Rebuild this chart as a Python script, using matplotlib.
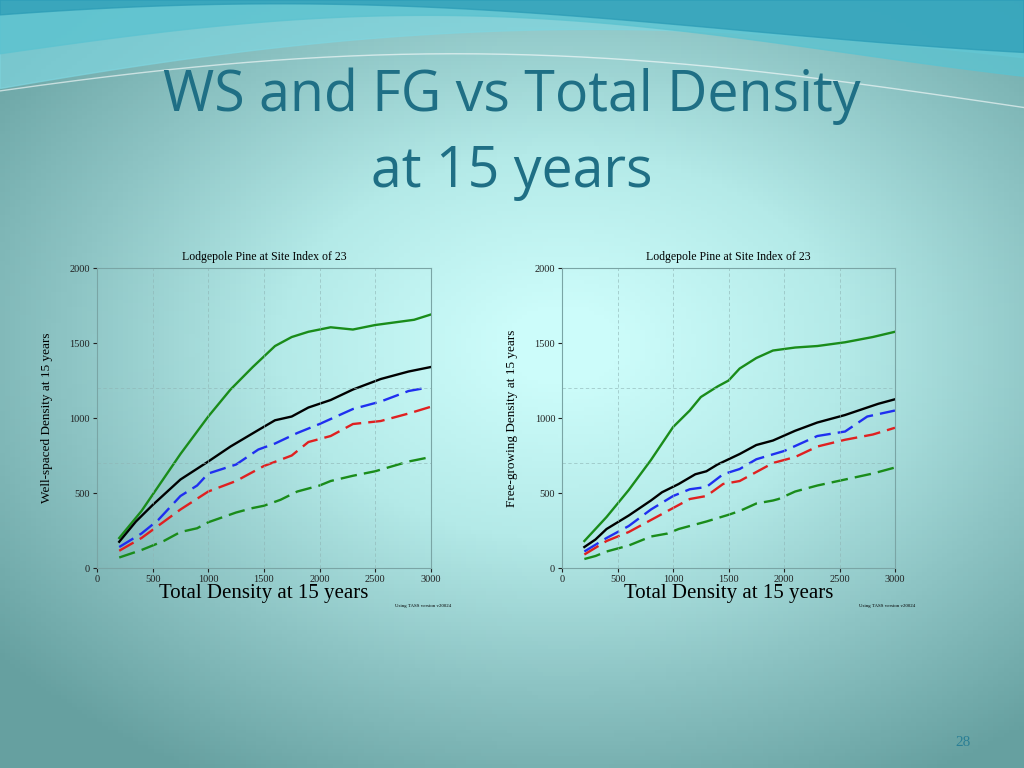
import matplotlib.pyplot as plt
import numpy as np
from matplotlib.colors import LinearSegmentedColormap

# left panel: well-spaced density
ws_green_x = [200, 400, 750, 1000, 1200, 1400, 1600, 1750, 1900, 2100, 2300, 2500, 2700, 2850, 3000]
ws_green_y = [200, 380, 760, 1010, 1190, 1340, 1480, 1540, 1575, 1605, 1590, 1620, 1640, 1655, 1690]
ws_black_x = [200, 350, 500, 750, 1000, 1200, 1450, 1600, 1750, 1900, 2100, 2300, 2550, 2800, 3000]
ws_black_y = [175, 310, 420, 590, 710, 810, 920, 985, 1010, 1070, 1120, 1190, 1260, 1310, 1340]
ws_blue_x = [200, 400, 550, 750, 900, 1000, 1250, 1450, 1600, 1800, 2000, 2300, 2550, 2800, 2950]
ws_blue_y = [140, 230, 320, 480, 550, 630, 690, 790, 830, 900, 960, 1060, 1110, 1180, 1200]
ws_red_x = [200, 400, 750, 1000, 1250, 1500, 1750, 1900, 2100, 2300, 2550, 2800, 3000]
ws_red_y = [115, 200, 390, 510, 580, 680, 750, 840, 880, 960, 980, 1030, 1075]
ws_gdash_x = [200, 400, 600, 750, 900, 1000, 1250, 1400, 1500, 1650, 1800, 2000, 2100, 2300, 2500, 2800, 3000]
ws_gdash_y = [70, 120, 180, 240, 265, 305, 370, 400, 415, 455, 510, 550, 580, 615, 645, 710, 740]

# right panel: free-growing density
fg_green_x = [200, 400, 600, 800, 1000, 1150, 1250, 1400, 1500, 1600, 1750, 1900, 2100, 2300, 2550, 2800, 3000]
fg_green_y = [180, 340, 520, 720, 940, 1050, 1140, 1210, 1250, 1330, 1400, 1450, 1470, 1480, 1505, 1540, 1575]
fg_black_x = [200, 300, 400, 600, 800, 900, 1050, 1200, 1300, 1400, 1600, 1750, 1900, 2100, 2300, 2550, 2850, 3000]
fg_black_y = [140, 190, 260, 350, 450, 505, 560, 625, 645, 690, 760, 820, 850, 915, 970, 1020, 1095, 1125]
fg_blue_x = [200, 400, 600, 800, 1000, 1150, 1300, 1450, 1600, 1750, 2000, 2300, 2550, 2750, 3000]
fg_blue_y = [110, 200, 280, 390, 480, 525, 540, 625, 660, 725, 780, 880, 910, 1010, 1050]
fg_red_x = [200, 400, 600, 800, 1000, 1150, 1300, 1450, 1600, 1750, 1900, 2100, 2300, 2550, 2800, 3000]
fg_red_y = [90, 180, 240, 320, 400, 460, 480, 560, 580, 640, 700, 740, 810, 855, 890, 935]
fg_gdash_x = [200, 300, 400, 600, 800, 950, 1050, 1300, 1500, 1600, 1750, 1900, 1950, 2100, 2300, 2550, 2800, 3000]
fg_gdash_y = [60, 80, 110, 150, 210, 230, 260, 310, 355, 380, 430, 450, 460, 510, 550, 590, 630, 670]

x_ticks = [0, 500, 1000, 1500, 2000, 2500, 3000]
y_ticks = [0, 500, 1000, 1500, 2000]

fig = plt.figure(figsize=(10.24, 7.68), dpi=100)

# background gradient
bg = fig.add_axes([0, 0, 1, 1])
bg.set_axis_off()
yy, xx = np.mgrid[0:1:200j, 0:1:200j]
dist = np.sqrt(((xx - 0.55) / 1.1) ** 2 + ((yy - 0.55) / 1.0) ** 2)
cmap = LinearSegmentedColormap.from_list("bg", ["#ccfcfa", "#b4eae8", "#8cc3c3", "#66a0a0"])
bg.imshow(dist, cmap=cmap, extent=[0, 1, 0, 1], aspect="auto", origin="lower", vmin=0.05, vmax=0.65)
t = np.linspace(0, 1, 200)
bg.fill_between(t, 1.0, 0.86 + 0.08 * np.sin(np.pi * (t * 0.8 + 0.1)) + 0.04 * t, color="#7fd6e0", alpha=0.7)
bg.fill_between(t, 1.0, 0.93 + 0.05 * np.sin(np.pi * t * 1.2), color="#5cc3d0", alpha=0.8)
bg.fill_between(t, 1.0, 0.96 + 0.035 * np.sin(np.pi * (t * 1.1 + 0.2)), color="#2a9bb5", alpha=0.7)
bg.plot(t, 0.86 + 0.07 * np.sin(np.pi * (t * 0.9 + 0.1)), color="white", lw=1, alpha=0.6)
bg.set_xlim(0, 1)
bg.set_ylim(0, 1)

fig.text(0.5, 0.875, "WS and FG vs Total Density", ha="center", va="center",
         fontsize=40, color="#1f6f85", family="Open Sans")
fig.text(0.5, 0.775, "at 15 years", ha="center", va="center",
         fontsize=40, color="#1f6f85", family="Open Sans")
fig.text(0.94, 0.033, "28", ha="center", va="center", fontsize=11, color="#2a7f95", family="Liberation Serif")


def draw_panel(rect, series, ylabel):
    ax = fig.add_axes(rect)
    ax.patch.set_alpha(0)
    for xs, ys, color, style in series:
        ax.plot(xs, ys, color=color, lw=1.7, linestyle=style)
    ax.set_xlim(0, 3000)
    ax.set_ylim(0, 2000)
    ax.set_xticks(x_ticks)
    ax.set_yticks(y_ticks)
    ax.tick_params(labelsize=7.5, length=3, colors="#222222", pad=2, direction="out")
    for lab in ax.get_xticklabels() + ax.get_yticklabels():
        lab.set_family("Liberation Serif")
    for sp in ax.spines.values():
        sp.set_color("#7aa5a5")
        sp.set_linewidth(0.8)
    for gx in [500, 1000, 1500, 2000, 2500]:
        ax.axvline(gx, color="#8fb5b5", lw=0.6, ls=(0, (4, 3)), alpha=0.7)
    for gy in [700, 1200]:
        ax.axhline(gy, color="#8fb5b5", lw=0.6, ls=(0, (4, 3)), alpha=0.7)
    ax.set_title("Lodgepole Pine at Site Index of 23", fontsize=8.5, family="Liberation Serif", pad=6)
    ax.set_xlabel("Total Density at 15 years", fontsize=15, family="Liberation Serif", labelpad=0)
    ax.set_ylabel(ylabel, fontsize=9.5, family="Liberation Serif", labelpad=12)
    ax.text(1.06, -0.13, "Using TASS version v20024", transform=ax.transAxes,
            fontsize=3.5, ha="right", family="Liberation Serif")


dash = (0, (7, 3))
draw_panel([0.0947, 0.2604, 0.326, 0.3906], [
    (ws_green_x, ws_green_y, "#1a8c1a", "-"),
    (ws_black_x, ws_black_y, "#000000", "-"),
    (ws_blue_x, ws_blue_y, "#1f2ff0", dash),
    (ws_red_x, ws_red_y, "#e02020", dash),
    (ws_gdash_x, ws_gdash_y, "#1a8c1a", dash),
], "Well-spaced Density at 15 years")

draw_panel([0.549, 0.2604, 0.325, 0.3906], [
    (fg_green_x, fg_green_y, "#1a8c1a", "-"),
    (fg_black_x, fg_black_y, "#000000", "-"),
    (fg_blue_x, fg_blue_y, "#1f2ff0", dash),
    (fg_red_x, fg_red_y, "#e02020", dash),
    (fg_gdash_x, fg_gdash_y, "#1a8c1a", dash),
], "Free-growing Density at 15 years")

fig.savefig("out.png", dpi=100)
